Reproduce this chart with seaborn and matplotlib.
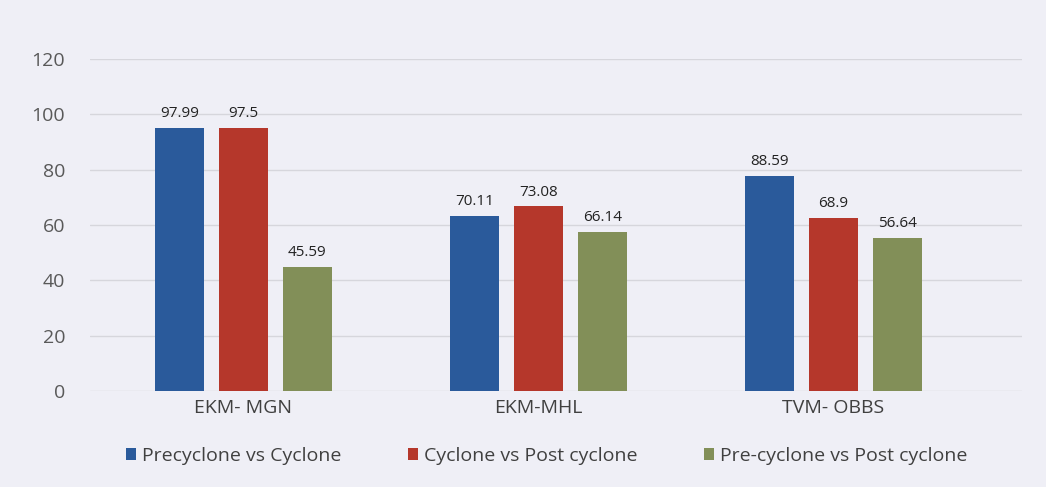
import pandas as pd
import matplotlib.pyplot as plt
import seaborn as sns

# data
sites = ['EKM- MGN', 'EKM-MHL', 'TVM- OBBS']
series = ['Precyclone vs Cyclone', 'Cyclone vs Post cyclone', 'Pre-cyclone vs Post cyclone']
# bar heights as drawn
precyc_vs_cyc = [95.2, 63.1, 77.8]
cyc_vs_post = [95.2, 66.7, 62.5]
pre_vs_post = [44.7, 57.6, 55.4]
# printed data labels
labels_precyc = ['97.99', '70.11', '88.59']
labels_cyc = ['97.5', '73.08', '68.9']
labels_pre_post = ['45.59', '66.14', '56.64']
y_ticks = [0, 20, 40, 60, 80, 100, 120]

colors = ['#2a5a9b', '#b5372b', '#828f58']
bg = '#efeff6'

df = pd.DataFrame({
    'site': sites * 3,
    'series': [series[0]] * 3 + [series[1]] * 3 + [series[2]] * 3,
    'value': precyc_vs_cyc + cyc_vs_post + pre_vs_post,
})

sns.set_theme(style='whitegrid')
plt.rcParams['font.family'] = ['Open Sans', 'DejaVu Sans']

fig = plt.figure(figsize=(10.46, 4.87), dpi=100, facecolor=bg)
ax = fig.add_axes([90 / 1046, 1 - 391 / 487, 932 / 1046, 332 / 487])
ax.set_facecolor(bg)

sns.barplot(data=df, x='site', y='value', hue='series', palette=colors,
            saturation=1, width=0.65, gap=0.23, linewidth=0, ax=ax, legend=True)

# value labels
all_labels = [labels_precyc, labels_cyc, labels_pre_post]
for cont, labs in zip(ax.containers, all_labels):
    ax.bar_label(cont, labels=labs, padding=5, fontsize=11, color='#222222')

ax.set_ylim(0, 120)
ax.set_yticks(y_ticks)
ax.set_xlim(-0.52, 2.64)
ax.set_xlabel('')
ax.set_ylabel('')
ax.grid(axis='y', color='#d6d6dc', linewidth=1)
ax.grid(axis='x', visible=False)
for s in ax.spines.values():
    s.set_visible(False)
ax.tick_params(axis='y', labelsize=14, colors='#595959', pad=18, length=0)
ax.tick_params(axis='x', labelsize=14, colors='#404040', pad=6, length=0)

leg = ax.legend(loc='upper center', bbox_to_anchor=(0.49, -0.115), ncol=3,
                frameon=False, fontsize=14, handlelength=0.55, handleheight=0.55,
                handletextpad=0.3, columnspacing=3.4)
for t in leg.get_texts():
    t.set_color('#404040')

fig.savefig('out.png', dpi=100, facecolor=bg)
